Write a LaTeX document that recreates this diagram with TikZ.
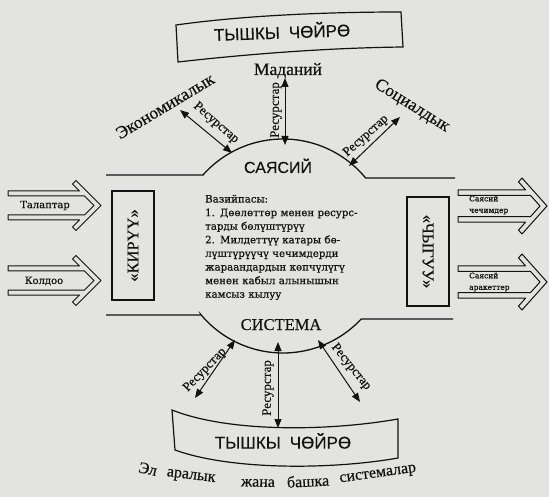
\documentclass[tikz,border=0pt]{standalone}
\usepackage{fontspec}
\setmainfont{Liberation Serif}[FakeBold=0.4]
\newfontfamily\sansf{Liberation Sans}[FakeBold=0.2]
\newfontfamily\dvs{DejaVu Serif}[FakeBold=0.7]
\usetikzlibrary{arrows.meta}
\definecolor{paper}{RGB}{227,227,225}
\definecolor{ink}{RGB}{18,18,18}
\newcommand{\jline}[1]{\makebox[\hsize][s]{#1}}
\newcommand{\hollowshape}[1]{(0,0) -- (-25,-25) -- (-28.5,-21.5) -- (-21.5,-14.5) -- (-#1,-14.5) -- (-#1,-9.5) -- (-16.5,-9.5) -- (-7,0) -- (-16.5,9.5) -- (-#1,9.5) -- (-#1,14.5) -- (-21.5,14.5) -- (-28.5,21.5) -- (-25,25) -- cycle}
\tikzset{
  ln/.style={draw=ink, line width=1.3pt},
  boxln/.style={draw=ink, line width=1.2pt, line join=miter},
  res/.style={draw=ink, line width=1pt, {Triangle[length=9pt,width=7pt]}-{Triangle[length=9pt,width=7pt]}},
  reslab/.style={font=\fontsize{13}{14}\selectfont, inner sep=0pt, text=ink},
  sphere/.style={font=\fontsize{17.5}{19}\selectfont, inner sep=0pt, text=ink},
  envtext/.style={font=\sansf\fontsize{17}{19}\selectfont, inner sep=0pt, text=ink},
  hollow/.style={draw=ink, line width=1pt, line join=round},
  arrtext/.style={font=\dvs\fontsize{10}{12}\selectfont, inner sep=0pt, text=ink},
  smalltext/.style={font=\dvs\fontsize{7.5}{11.5}\selectfont, inner sep=0pt, text=ink, align=left},
  sidebox/.style={draw=ink, line width=1.2pt, minimum width=109pt, minimum height=42pt, inner sep=0pt, font=\fontsize{16.5}{18}\selectfont, text=ink},
  capword/.style={font=\fontsize{16}{18}\selectfont, inner sep=0pt, text=ink},
}
\begin{document}
\begin{tikzpicture}[x=1pt,y=-1pt]
\useasboundingbox (0,0) rectangle (549,497);
\fill[paper] (0,0) rectangle (549,497);

% ---------- top environment box ----------
\draw[boxln] (176,25) .. controls (240,16) and (320,12) .. (401,12) -- (403,47) .. controls (320,48) and (240,55) .. (178,62) -- cycle;
\node[envtext, rotate=2] (topenv) at (282,31) {ТЫШКЫ\hspace{9pt}ЧӨЙРӨ};

% ---------- labels of the environment ----------
\node[sphere, anchor=base] (mad) at (288,75) {Маданий};
\node[sphere, rotate=31] (eco) at (165,106) {Экономикалык};
\node[sphere, rotate=-32] (soc) at (412,106) {Социалдык};

% ---------- political system (dome + bowl) ----------
\coordinate (dTL) at (106,175);
\coordinate (dTR) at (455,178);
\coordinate (dBL) at (106,315);
\coordinate (dBR) at (453,319);
\draw[ln] (dTL) -- (203,175) -- plot[domain=-138.4:-39.5, samples=80] ({283+107*cos(\x)},{246+107*sin(\x)}) -- (dTR);
\draw[ln] (dBL) -- (201,315) -- plot[domain=140.2:43, samples=80] ({283+107*cos(\x)},{246+107*sin(\x)}) -- (dBR);
\node[font=\sansf\fontsize{16}{18}\selectfont, inner sep=0pt, text=ink, anchor=base] (saya) at (278,173) {САЯСИЙ};
\node[font=\fontsize{16.5}{18}\selectfont, inner sep=0pt, text=ink, anchor=base] (sist) at (281,330) {СИСТЕМА};

% ---------- resource arrows, top ----------
\coordinate (ecoIn) at (232,153); \coordinate (ecoOut) at (180,110);
\coordinate (madIn) at (285,145); \coordinate (madOut) at (285,78);
\coordinate (socIn) at (349,166); \coordinate (socOut) at (400,117);
\draw[res] (ecoIn) -- (ecoOut);
\draw[res] (madIn) -- (madOut);
\draw[res] (socIn) -- (socOut);
\node[reslab, rotate=-41] (resEco) at (216,123) {Ресурстар};
\node[reslab, rotate=90] (resMad) at (276,110) {Ресурстар};
\node[reslab, rotate=42] (resSoc) at (366,136) {Ресурстар};

% ---------- resource arrows, bottom ----------
\coordinate (blIn) at (235,340); \coordinate (blOut) at (195,398);
\coordinate (bcIn) at (278,342); \coordinate (bcOut) at (278,428);
\coordinate (brIn) at (318,340); \coordinate (brOut) at (360,402);
\draw[res] (blIn) -- (blOut);
\draw[res] (bcIn) -- (bcOut);
\draw[res] (brIn) -- (brOut);
\node[reslab, rotate=46] (resBL) at (205,370) {Ресурстар};
\node[reslab, rotate=90] (resBC) at (268,388) {Ресурстар};
\node[reslab, rotate=-51] (resBR) at (351,367) {Ресурстар};

% ---------- bottom environment box ----------
\draw[boxln] (172,410) .. controls (230,433) and (330,431) .. (398,419) -- (398,458) .. controls (330,470) and (230,470) .. (175,450) -- cycle;
\node[envtext] (botenv) at (283,441) {ТЫШКЫ\hspace{9pt}ЧӨЙРӨ};

% ---------- caption ----------
\node[capword, rotate=-12] (c1) at (148,469) {Эл};
\node[capword, rotate=-7] (c2) at (191,477) {аралык};
\node[capword, rotate=-1] (c3) at (258,483) {жана};
\node[capword, rotate=3] (c4) at (308,481) {башка};
\node[capword, rotate=8] (c5) at (378,475) {системалар};

% ---------- input / output boxes ----------
\node[sidebox, rotate=90] (kiruu) at (133,245.5) {«КИРҮҮ»};
\node[sidebox, rotate=-90] (chyguu) at (428,251.5) {«ЧЫГУУ»};

% ---------- function text ----------
\node[anchor=base west, inner sep=0pt, text width=158pt, font=\dvs\fontsize{10.2}{13.6}\selectfont, text=ink] (func) at (205,202.5) {\noindent
Вазийпасы:\\
\jline{1. Дөөлөттөр менен ресурс-}\\
тарды бөлүштүрүү\\
\jline{2. Милдеттүү катары бө-}\\
\jline{лүштүрүүчү чечимдерди}\\
\jline{жараандардын көпчүлүгү}\\
\jline{менен кабыл алынышын}\\
камсыз кылуу};

% ---------- hollow input arrows ----------
\draw[hollow, shift={(101,205.5)}] \hollowshape{93};
\draw[hollow, shift={(101,280.5)}] \hollowshape{93};
\node[arrtext] (talap) at (45,205.5) {Талаптар};
\node[arrtext] (koldoo) at (44,281) {Колдоо};

% ---------- hollow output arrows ----------
\draw[hollow, shift={(547,206)}, yscale=1.12] \hollowshape{89};
\draw[hollow, shift={(547,282)}, yscale=1.12] \hollowshape{89};
\node[smalltext, anchor=west] (out1) at (469,205) {Саясий\\чечимдер};
\node[smalltext, anchor=west] (out2) at (469,282) {Саясий\\аракеттер};
\end{tikzpicture}
\end{document}
